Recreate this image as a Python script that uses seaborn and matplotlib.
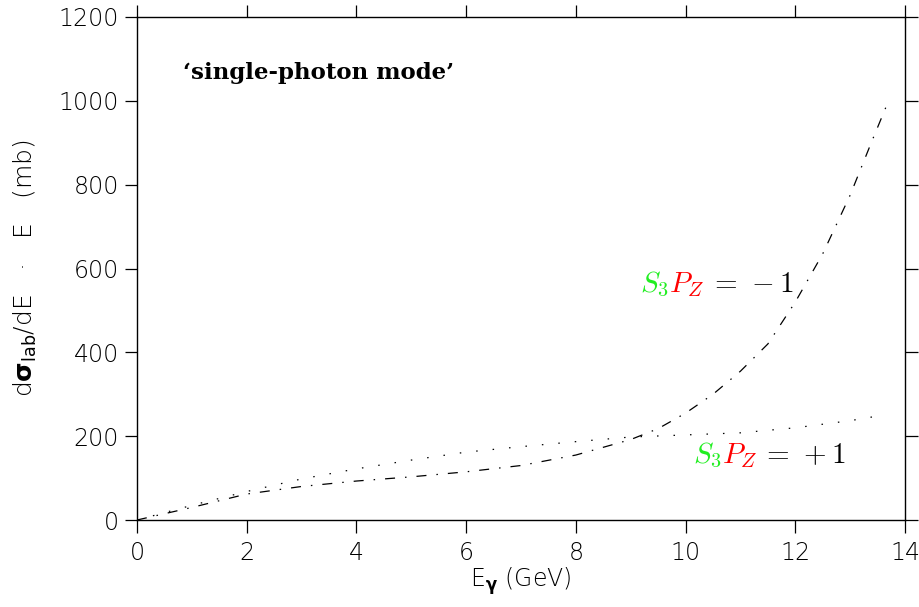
import matplotlib
matplotlib.use("Agg")
import matplotlib.pyplot as plt
import seaborn as sns
import pandas as pd
import numpy as np

# S3 Pz = -1 curve (dash-dot)
e_minus = [0, 1, 2, 3, 4, 5, 6, 7, 8, 9, 9.5, 10, 10.5, 11, 11.5, 12, 12.5, 13, 13.4, 13.7]
xs_minus = [0, 30, 62, 80, 93, 103, 115, 130, 155, 192, 218, 255, 300, 355, 420, 520, 635, 775, 905, 1000]

# S3 Pz = +1 curve (dotted)
e_plus = [0, 1, 2, 3, 4, 5, 6, 7, 8, 9, 10, 11, 12, 13, 13.5]
xs_plus = [0, 35, 68, 98, 122, 143, 162, 175, 187, 198, 203, 208, 220, 237, 248]

x_ticks = [0, 2, 4, 6, 8, 10, 12, 14]
y_ticks = [0, 200, 400, 600, 800, 1000, 1200]

sns.set_style("ticks")
plt.rcParams["mathtext.fontset"] = "cm"
tick_font = "DejaVu Sans"

fig = plt.figure(figsize=(9.2, 6.07), dpi=100)
ax = fig.add_axes([0.1489, 0.1433, 0.8348, 0.8287])

df_minus = pd.DataFrame({"E": e_minus, "val": xs_minus})
df_plus = pd.DataFrame({"E": e_plus, "val": xs_plus})

sns.lineplot(data=df_minus, x="E", y="val", ax=ax, color="black", lw=0.9,
             linestyle=(0, (8, 8, 1.2, 8)))
sns.lineplot(data=df_plus, x="E", y="val", ax=ax, color="black", lw=0.9,
             linestyle=(0, (1.2, 12)))

ax.set_xlim(0, 14)
ax.set_ylim(0, 1200)
ax.set_xticks(x_ticks)
ax.set_yticks(y_ticks)
ax.set_xticklabels([str(t) for t in x_ticks], fontsize=17, family=tick_font, weight="light")
ax.set_yticklabels([str(t) for t in y_ticks], fontsize=17, family=tick_font, weight="light")
ax.tick_params(direction="out", length=9, width=0.9, top=True, right=True,
               labeltop=False, labelright=False, colors="black", pad=4)
ax.tick_params(axis="x", pad=6)
for s in ax.spines.values():
    s.set_linewidth(1.0)
    s.set_color("black")

ax.set_xlabel(r"E$_{\mathbf{\gamma}}$ (GeV)", fontsize=17, family=tick_font,
              weight="light", color="black", labelpad=0, math_fontfamily="dejavusans")
ax.set_ylabel(r"d$\mathbf{\sigma}_{\mathrm{lab}}$/dE   ·   E   (mb)", fontsize=18,
              family=tick_font, weight="light", color="black", labelpad=14,
              math_fontfamily="dejavusans")

ax.text(0.84, 1067, "\u2018single-photon mode\u2019", fontsize=16.5, weight="bold",
        family="DejaVu Serif", color="black", va="center")

# coloured labels built from pieces
def colour_label(x, y, pieces):
    fig.canvas.draw()
    r = fig.canvas.get_renderer()
    t = ax.transData.transform((x, y))
    for txt, col in pieces:
        h = ax.text(t[0], t[1], txt, color=col, fontsize=21, transform=None,
                    va="baseline", ha="left")
        bb = h.get_window_extent(renderer=r)
        t = (bb.x1, t[1])

colour_label(9.17, 545, [(r"$S_3$", "#22ee22"), (r"$P_Z$", "red"), (r"$\,=\,-1$", "black")])
colour_label(10.13, 135, [(r"$S_3$", "#22ee22"), (r"$P_Z$", "red"), (r"$\,=\,+1$", "black")])

fig.savefig("out.png", dpi=100)
